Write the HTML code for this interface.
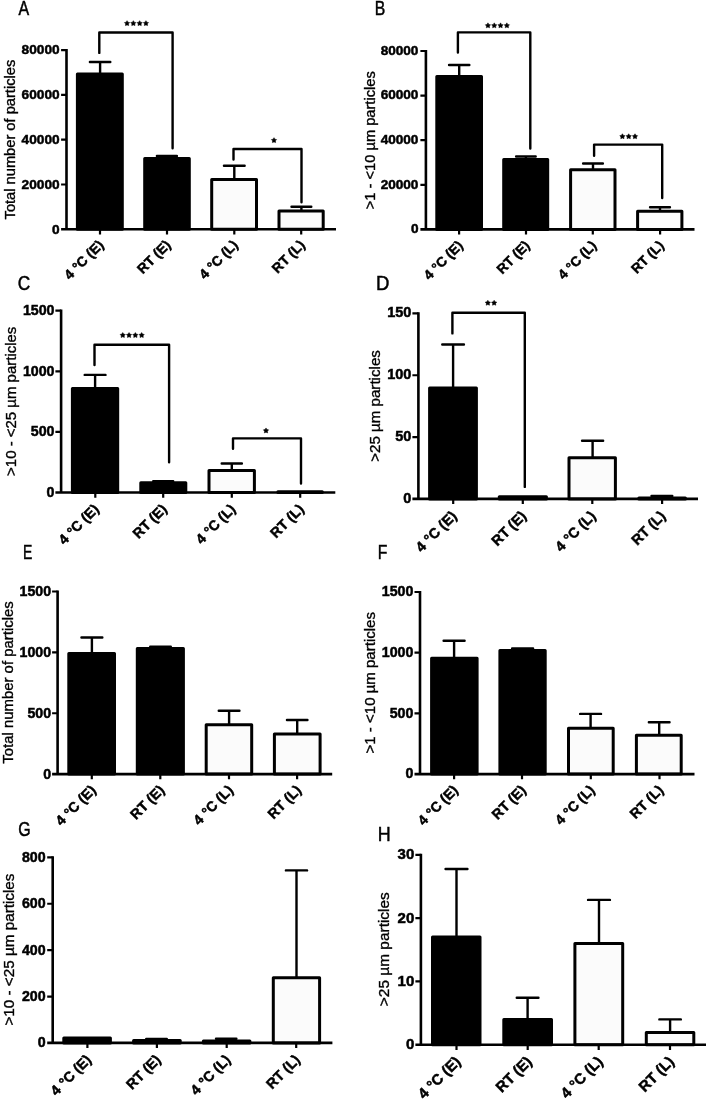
<!DOCTYPE html>
<html><head><meta charset="utf-8"><style>
html,body{margin:0;padding:0;background:#fff;overflow:hidden;}
svg{display:block;will-change:transform;}
text{font-family:"Liberation Sans", sans-serif;fill:#000;}
.lt{font-size:20px;stroke:#000;stroke-width:0.5px;}
.tk{font-weight:bold;text-anchor:end;stroke:#000;stroke-width:0.5px;}
.tt{text-anchor:middle;stroke:#000;stroke-width:0.35px;}
.xl{font-weight:bold;text-anchor:end;stroke:#000;stroke-width:0.5px;}
.ln{fill:none;stroke:#000;stroke-width:2.4;stroke-linecap:round;stroke-linejoin:round;}
.ax{fill:none;stroke:#000;stroke-width:2.6;stroke-linecap:butt;}
.tkl{fill:none;stroke:#000;stroke-width:2.2;stroke-linecap:butt;}
.st{fill:#000;stroke:#000;stroke-width:0.5;stroke-linejoin:round;}
.bar{stroke:#000;stroke-width:3.0;stroke-linejoin:round;}
</style></head><body>
<svg width="708" height="1099" viewBox="0 0 708 1099">
<rect width="708" height="1099" fill="#fff"/>
<g id="pA"><text transform="translate(18.52 15.48) scale(0.797 1)" class="lt">A</text><path d="M100.1 73.90 V62 M89.90 62 H110.30" class="ln"/><rect x="77.40" y="73.90" width="44.90" height="155.40" fill="#000" class="bar"/><path d="M166.9 158.60 V156 M156.90 156 H176.90" class="ln"/><rect x="144.70" y="158.60" width="44.60" height="70.70" fill="#000" class="bar"/><path d="M234.3 179.50 V165.7 M223.95 165.7 H244.65" class="ln"/><rect x="211.70" y="179.50" width="44.80" height="49.80" fill="#fbfbfb" class="bar"/><path d="M301.4 211.10 V206.7 M291.50 206.7 H311.30" class="ln"/><rect x="279.00" y="211.10" width="44.20" height="18.20" fill="#fbfbfb" class="bar"/><path d="M66.5 49.00 V229.3 M61.1 229.3 H336" class="ax"/><path d="M61.1 50.10 H66.5 M61.1 94.90 H66.5 M61.1 139.70 H66.5 M61.1 184.50 H66.5 M100 229.3 V234.50 M167 229.3 V234.50 M234.3 229.3 V234.50 M301.2 229.3 V234.50" class="tkl"/><text x="59.65" y="54.41" class="tk" style="font-size:13.7px">80000</text><text x="59.65" y="99.21" class="tk" style="font-size:13.7px">60000</text><text x="59.65" y="144.01" class="tk" style="font-size:13.7px">40000</text><text x="59.65" y="188.81" class="tk" style="font-size:13.7px">20000</text><text x="59.65" y="233.61" class="tk" style="font-size:13.7px">0</text><text transform="translate(15.10 139.60) rotate(-90)" class="tt" style="font-size:14.67px">Total number of particles</text><text transform="translate(104.50 245.80) rotate(-45)" class="xl" style="font-size:13.75px">4 °C (E)</text><text transform="translate(171.50 245.80) rotate(-45)" class="xl" style="font-size:13.75px">RT (E)</text><text transform="translate(238.80 245.80) rotate(-45)" class="xl" style="font-size:13.75px">4 °C (L)</text><text transform="translate(305.70 245.80) rotate(-45)" class="xl" style="font-size:13.75px">RT (L)</text><path d="M99.3 52.9 V32.5 H172.6 V148.2" class="ln"/><polygon points="127.05,20.65 127.94,22.18 129.67,22.55 128.49,23.87 128.67,25.62 127.05,24.91 125.43,25.62 125.61,23.87 124.43,22.55 126.16,22.18" class="st"/><polygon points="133.35,20.65 134.24,22.18 135.97,22.55 134.79,23.87 134.97,25.62 133.35,24.91 131.73,25.62 131.91,23.87 130.73,22.55 132.46,22.18" class="st"/><polygon points="139.65,20.65 140.54,22.18 142.27,22.55 141.09,23.87 141.27,25.62 139.65,24.91 138.03,25.62 138.21,23.87 137.03,22.55 138.76,22.18" class="st"/><polygon points="145.95,20.65 146.84,22.18 148.57,22.55 147.39,23.87 147.57,25.62 145.95,24.91 144.33,25.62 144.51,23.87 143.33,22.55 145.06,22.18" class="st"/><path d="M233.5 159.5 V149 H301.5 V202.2" class="ln"/><polygon points="274.00,137.65 274.89,139.18 276.62,139.55 275.44,140.87 275.62,142.62 274.00,141.91 272.38,142.62 272.56,140.87 271.38,139.55 273.11,139.18" class="st"/></g>
<g id="pB"><text transform="translate(374.70 15.16) scale(0.787 1)" class="lt">B</text><path d="M459.2 76.40 V65 M449.05 65 H469.35" class="ln"/><rect x="436.80" y="76.40" width="44.70" height="153.00" fill="#000" class="bar"/><path d="M525.9 159.50 V156.5 M516.10 156.5 H535.70" class="ln"/><rect x="503.70" y="159.50" width="44.00" height="69.90" fill="#000" class="bar"/><path d="M593 169.70 V163.5 M583.10 163.5 H602.90" class="ln"/><rect x="570.60" y="169.70" width="44.40" height="59.70" fill="#fbfbfb" class="bar"/><path d="M660 211.20 V207.3 M650.05 207.3 H669.95" class="ln"/><rect x="637.60" y="211.20" width="44.30" height="18.20" fill="#fbfbfb" class="bar"/><path d="M425.9 49.90 V229.4 M420.4 229.4 H694.5" class="ax"/><path d="M420.4 51.00 H425.9 M420.4 95.60 H425.9 M420.4 140.20 H425.9 M420.4 184.80 H425.9 M459.1 229.4 V234.60 M526 229.4 V234.60 M592.8 229.4 V234.60 M660.1 229.4 V234.60" class="tkl"/><text x="418.45" y="54.88" class="tk" style="font-size:13.6px">80000</text><text x="418.45" y="99.48" class="tk" style="font-size:13.6px">60000</text><text x="418.45" y="144.08" class="tk" style="font-size:13.6px">40000</text><text x="418.45" y="188.68" class="tk" style="font-size:13.6px">20000</text><text x="418.45" y="233.28" class="tk" style="font-size:13.6px">0</text><text transform="translate(374.50 140.25) rotate(-90)" class="tt" style="font-size:14.67px">&gt;1 - &lt;10 µm particles</text><text transform="translate(463.60 246.40) rotate(-45)" class="xl" style="font-size:13.6px">4 °C (E)</text><text transform="translate(530.50 246.40) rotate(-45)" class="xl" style="font-size:13.6px">RT (E)</text><text transform="translate(597.30 246.40) rotate(-45)" class="xl" style="font-size:13.6px">4 °C (L)</text><text transform="translate(664.60 246.40) rotate(-45)" class="xl" style="font-size:13.6px">RT (L)</text><path d="M457.9 52.5 V32.4 H530.3 V148.5" class="ln"/><polygon points="487.95,22.85 488.84,24.38 490.57,24.75 489.39,26.07 489.57,27.82 487.95,27.11 486.33,27.82 486.51,26.07 485.33,24.75 487.06,24.38" class="st"/><polygon points="494.25,22.85 495.14,24.38 496.87,24.75 495.69,26.07 495.87,27.82 494.25,27.11 492.63,27.82 492.81,26.07 491.63,24.75 493.36,24.38" class="st"/><polygon points="500.55,22.85 501.44,24.38 503.17,24.75 501.99,26.07 502.17,27.82 500.55,27.11 498.93,27.82 499.11,26.07 497.93,24.75 499.66,24.38" class="st"/><polygon points="506.85,22.85 507.74,24.38 509.47,24.75 508.29,26.07 508.47,27.82 506.85,27.11 505.23,27.82 505.41,26.07 504.23,24.75 505.96,24.38" class="st"/><path d="M594.1 155.7 V144.6 H662.2 V198" class="ln"/><polygon points="622.40,133.75 623.29,135.28 625.02,135.65 623.84,136.97 624.02,138.72 622.40,138.01 620.78,138.72 620.96,136.97 619.78,135.65 621.51,135.28" class="st"/><polygon points="628.70,133.75 629.59,135.28 631.32,135.65 630.14,136.97 630.32,138.72 628.70,138.01 627.08,138.72 627.26,136.97 626.08,135.65 627.81,135.28" class="st"/><polygon points="635.00,133.75 635.89,135.28 637.62,135.65 636.44,136.97 636.62,138.72 635.00,138.01 633.38,138.72 633.56,136.97 632.38,135.65 634.11,135.28" class="st"/></g>
<g id="pC"><text transform="translate(17.82 290.40) scale(0.865 1)" class="lt">C</text><path d="M95.1 388.40 V374.9 M84.70 374.9 H105.50" class="ln"/><rect x="72.40" y="388.40" width="45.30" height="104.10" fill="#000" class="bar"/><path d="M163.2 482.80 V481.2 M153.20 481.2 H173.20" class="ln"/><rect x="140.80" y="482.80" width="45.00" height="9.70" fill="#000" class="bar"/><path d="M231.8 470.60 V463.5 M221.70 463.5 H241.90" class="ln"/><rect x="209.00" y="470.60" width="45.40" height="21.90" fill="#fbfbfb" class="bar"/><rect x="277.90" y="491.80" width="44.40" height="0.70" fill="#000" class="bar"/><path d="M61.1 309.60 V492.5 M55.4 492.5 H335.3" class="ax"/><path d="M55.4 310.70 H61.1 M55.4 371.30 H61.1 M55.4 431.90 H61.1 M95.3 492.5 V497.70 M163.2 492.5 V497.70 M231.8 492.5 V497.70 M300.2 492.5 V497.70" class="tkl"/><text x="54.45" y="314.98" class="tk" style="font-size:14.2px">1500</text><text x="54.45" y="375.58" class="tk" style="font-size:14.2px">1000</text><text x="54.45" y="436.18" class="tk" style="font-size:14.2px">500</text><text x="54.45" y="496.78" class="tk" style="font-size:14.2px">0</text><text transform="translate(15.90 401.30) rotate(-90)" class="tt" style="font-size:14.98px">&gt;10 - &lt;25 µm particles</text><text transform="translate(99.80 510.00) rotate(-45)" class="xl" style="font-size:14.05px">4 °C (E)</text><text transform="translate(167.70 510.00) rotate(-45)" class="xl" style="font-size:14.05px">RT (E)</text><text transform="translate(236.30 510.00) rotate(-45)" class="xl" style="font-size:14.05px">4 °C (L)</text><text transform="translate(304.70 510.00) rotate(-45)" class="xl" style="font-size:14.05px">RT (L)</text><path d="M94.5 365 V344.7 H169.1 V462.3" class="ln"/><polygon points="122.75,332.55 123.64,334.08 125.37,334.45 124.19,335.77 124.37,337.52 122.75,336.81 121.13,337.52 121.31,335.77 120.13,334.45 121.86,334.08" class="st"/><polygon points="129.05,332.55 129.94,334.08 131.67,334.45 130.49,335.77 130.67,337.52 129.05,336.81 127.43,337.52 127.61,335.77 126.43,334.45 128.16,334.08" class="st"/><polygon points="135.35,332.55 136.24,334.08 137.97,334.45 136.79,335.77 136.97,337.52 135.35,336.81 133.73,337.52 133.91,335.77 132.73,334.45 134.46,334.08" class="st"/><polygon points="141.65,332.55 142.54,334.08 144.27,334.45 143.09,335.77 143.27,337.52 141.65,336.81 140.03,337.52 140.21,335.77 139.03,334.45 140.76,334.08" class="st"/><path d="M233 448.8 V438.4 H301 V483.6" class="ln"/><polygon points="266.00,427.95 266.89,429.48 268.62,429.85 267.44,431.17 267.62,432.92 266.00,432.21 264.38,432.92 264.56,431.17 263.38,429.85 265.11,429.48" class="st"/></g>
<g id="pD"><text transform="translate(376.08 290.24) scale(0.927 1)" class="lt">D</text><path d="M453.1 388.00 V344.5 M442.25 344.5 H463.95" class="ln"/><rect x="429.60" y="388.00" width="46.80" height="110.90" fill="#000" class="bar"/><rect x="499.30" y="496.70" width="47.10" height="2.20" fill="#000" class="bar"/><path d="M592.6 457.70 V440.8 M582.05 440.8 H603.15" class="ln"/><rect x="569.00" y="457.70" width="46.40" height="41.20" fill="#fbfbfb" class="bar"/><path d="M661.9 498.00 V496 M651.50 496 H672.30" class="ln"/><rect x="638.90" y="498.00" width="46.50" height="0.90" fill="#000" class="bar"/><path d="M418.4 312.30 V498.9 M412.4 498.9 H698" class="ax"/><path d="M412.4 313.40 H418.4 M412.4 375.23 H418.4 M412.4 437.07 H418.4 M453.2 498.9 V504.10 M522.8 498.9 V504.10 M592.3 498.9 V504.10 M662.1 498.9 V504.10" class="tkl"/><text x="411.45" y="317.49" class="tk" style="font-size:14.5px">150</text><text x="411.45" y="379.32" class="tk" style="font-size:14.5px">100</text><text x="411.45" y="441.15" class="tk" style="font-size:14.5px">50</text><text x="411.45" y="502.99" class="tk" style="font-size:14.5px">0</text><text transform="translate(379.50 406.00) rotate(-90)" class="tt" style="font-size:15.13px">&gt;25 µm particles</text><text transform="translate(457.50 516.90) rotate(-45)" class="xl" style="font-size:14.3px">4 °C (E)</text><text transform="translate(527.10 516.90) rotate(-45)" class="xl" style="font-size:14.3px">RT (E)</text><text transform="translate(596.60 516.90) rotate(-45)" class="xl" style="font-size:14.3px">4 °C (L)</text><text transform="translate(666.40 516.90) rotate(-45)" class="xl" style="font-size:14.3px">RT (L)</text><path d="M452.4 333.4 V312.8 H524.8 V486.9" class="ln"/><polygon points="487.85,300.25 488.74,301.78 490.47,302.15 489.29,303.47 489.47,305.22 487.85,304.51 486.23,305.22 486.41,303.47 485.23,302.15 486.96,301.78" class="st"/><polygon points="494.15,300.25 495.04,301.78 496.77,302.15 495.59,303.47 495.77,305.22 494.15,304.51 492.53,305.22 492.71,303.47 491.53,302.15 493.26,301.78" class="st"/></g>
<g id="pE"><text transform="translate(23.08 559.10) scale(0.700 1)" class="lt">E</text><path d="M91.9 653.50 V637.5 M81.45 637.5 H102.35" class="ln"/><rect x="68.80" y="653.50" width="45.70" height="120.60" fill="#000" class="bar"/><path d="M160.5 648.60 V646.7 M150.20 646.7 H170.80" class="ln"/><rect x="137.30" y="648.60" width="46.10" height="125.50" fill="#000" class="bar"/><path d="M229.1 724.80 V710.7 M218.75 710.7 H239.45" class="ln"/><rect x="206.20" y="724.80" width="45.50" height="49.30" fill="#fbfbfb" class="bar"/><path d="M297.2 734.00 V720 M286.95 720 H307.45" class="ln"/><rect x="274.40" y="734.00" width="45.70" height="40.10" fill="#fbfbfb" class="bar"/><path d="M57.6 590.40 V774.1 M52.1 774.1 H332.2" class="ax"/><path d="M52.1 591.50 H57.6 M52.1 652.37 H57.6 M52.1 713.23 H57.6 M91.8 774.1 V779.30 M160.3 774.1 V779.30 M229 774.1 V779.30 M297.1 774.1 V779.30" class="tkl"/><text x="51.15" y="596.28" class="tk" style="font-size:14.2px">1500</text><text x="51.15" y="657.15" class="tk" style="font-size:14.2px">1000</text><text x="51.15" y="718.02" class="tk" style="font-size:14.2px">500</text><text x="51.15" y="778.88" class="tk" style="font-size:14.2px">0</text><text transform="translate(12.60 682.50) rotate(-90)" class="tt" style="font-size:14.91px">Total number of particles</text><text transform="translate(96.80 791.00) rotate(-45)" class="xl" style="font-size:14.05px">4 °C (E)</text><text transform="translate(165.30 791.00) rotate(-45)" class="xl" style="font-size:14.05px">RT (E)</text><text transform="translate(234.00 791.00) rotate(-45)" class="xl" style="font-size:14.05px">4 °C (L)</text><text transform="translate(302.10 791.00) rotate(-45)" class="xl" style="font-size:14.05px">RT (L)</text></g>
<g id="pF"><text transform="translate(377.72 559.10) scale(0.784 1)" class="lt">F</text><path d="M454.1 658.20 V640.8 M443.60 640.8 H464.60" class="ln"/><rect x="431.60" y="658.20" width="45.50" height="115.90" fill="#000" class="bar"/><path d="M522.6 650.60 V648.4 M512.10 648.4 H533.10" class="ln"/><rect x="499.90" y="650.60" width="45.30" height="123.50" fill="#000" class="bar"/><path d="M590.6 728.20 V713.9 M580.15 713.9 H601.05" class="ln"/><rect x="568.50" y="728.20" width="44.70" height="45.90" fill="#fbfbfb" class="bar"/><path d="M659.2 735.30 V722.2 M648.85 722.2 H669.55" class="ln"/><rect x="636.40" y="735.30" width="44.80" height="38.80" fill="#fbfbfb" class="bar"/><path d="M420 590.90 V774.1 M414.5 774.1 H694.5" class="ax"/><path d="M414.5 592.00 H420 M414.5 652.70 H420 M414.5 713.40 H420 M454.1 774.1 V779.30 M522 774.1 V779.30 M590.8 774.1 V779.30 M659.5 774.1 V779.30" class="tkl"/><text x="413.35" y="596.28" class="tk" style="font-size:14.2px">1500</text><text x="413.35" y="656.98" class="tk" style="font-size:14.2px">1000</text><text x="413.35" y="717.68" class="tk" style="font-size:14.2px">500</text><text x="413.35" y="778.38" class="tk" style="font-size:14.2px">0</text><text transform="translate(374.70 682.75) rotate(-90)" class="tt" style="font-size:15.03px">&gt;1 - &lt;10 µm particles</text><text transform="translate(458.80 791.00) rotate(-45)" class="xl" style="font-size:14.0px">4 °C (E)</text><text transform="translate(526.70 791.00) rotate(-45)" class="xl" style="font-size:14.0px">RT (E)</text><text transform="translate(595.50 791.00) rotate(-45)" class="xl" style="font-size:14.0px">4 °C (L)</text><text transform="translate(664.20 791.00) rotate(-45)" class="xl" style="font-size:14.0px">RT (L)</text></g>
<g id="pG"><text transform="translate(18.20 836.14) scale(0.797 1)" class="lt">G</text><rect x="63.80" y="1037.90" width="46.60" height="5.00" fill="#000" class="bar"/><path d="M156.5 1040.60 V1039 M146.20 1039 H166.80" class="ln"/><rect x="133.60" y="1040.60" width="46.60" height="2.30" fill="#000" class="bar"/><path d="M226.2 1040.90 V1038.8 M216.00 1038.8 H236.40" class="ln"/><rect x="203.40" y="1040.90" width="46.50" height="2.00" fill="#000" class="bar"/><path d="M296.5 977.70 V870.4 M285.90 870.4 H307.10" class="ln"/><rect x="273.30" y="977.70" width="46.30" height="65.20" fill="#fbfbfb" class="bar"/><path d="M52.7 856.30 V1042.9 M47.2 1042.9 H332.4" class="ax"/><path d="M47.2 857.40 H52.7 M47.2 903.77 H52.7 M47.2 950.15 H52.7 M47.2 996.53 H52.7 M87.4 1042.9 V1048.10 M156.9 1042.9 V1048.10 M226.7 1042.9 V1048.10 M296.2 1042.9 V1048.10" class="tkl"/><text x="45.55" y="861.88" class="tk" style="font-size:14.2px">800</text><text x="45.55" y="908.26" class="tk" style="font-size:14.2px">600</text><text x="45.55" y="954.63" class="tk" style="font-size:14.2px">400</text><text x="45.55" y="1001.01" class="tk" style="font-size:14.2px">200</text><text x="45.55" y="1047.38" class="tk" style="font-size:14.2px">0</text><text transform="translate(13.90 949.55) rotate(-90)" class="tt" style="font-size:15.26px">&gt;10 - &lt;25 µm particles</text><text transform="translate(92.10 1060.70) rotate(-45)" class="xl" style="font-size:14.2px">4 °C (E)</text><text transform="translate(161.60 1060.70) rotate(-45)" class="xl" style="font-size:14.2px">RT (E)</text><text transform="translate(231.40 1060.70) rotate(-45)" class="xl" style="font-size:14.2px">4 °C (L)</text><text transform="translate(300.90 1060.70) rotate(-45)" class="xl" style="font-size:14.2px">RT (L)</text></g>
<g id="pH"><text transform="translate(377.72 841.16) scale(0.895 1)" class="lt">H</text><path d="M456.5 937.00 V869 M445.55 869 H467.45" class="ln"/><rect x="432.50" y="937.00" width="47.50" height="107.70" fill="#000" class="bar"/><path d="M527.6 1019.50 V997.8 M516.75 997.8 H538.45" class="ln"/><rect x="503.80" y="1019.50" width="47.70" height="25.20" fill="#000" class="bar"/><path d="M599 943.60 V899.9 M588.05 899.9 H609.95" class="ln"/><rect x="574.90" y="943.60" width="47.80" height="101.10" fill="#fbfbfb" class="bar"/><path d="M670.1 1032.40 V1019.4 M659.35 1019.4 H680.85" class="ln"/><rect x="646.30" y="1032.40" width="47.50" height="12.30" fill="#fbfbfb" class="bar"/><path d="M420.9 853.80 V1044.7 M415.4 1044.7 H706" class="ax"/><path d="M415.4 854.90 H420.9 M415.4 918.17 H420.9 M415.4 981.43 H420.9 M456.5 1044.7 V1049.90 M527.7 1044.7 V1049.90 M598.7 1044.7 V1049.90 M670 1044.7 V1049.90" class="tkl"/><text x="414.25" y="859.26" class="tk" style="font-size:15px">30</text><text x="414.25" y="922.53" class="tk" style="font-size:15px">20</text><text x="414.25" y="985.79" class="tk" style="font-size:15px">10</text><text x="414.25" y="1049.06" class="tk" style="font-size:15px">0</text><text transform="translate(389.20 949.20) rotate(-90)" class="tt" style="font-size:15.44px">&gt;25 µm particles</text><text transform="translate(461.50 1062.40) rotate(-45)" class="xl" style="font-size:14.85px">4 °C (E)</text><text transform="translate(532.70 1062.40) rotate(-45)" class="xl" style="font-size:14.85px">RT (E)</text><text transform="translate(603.70 1062.40) rotate(-45)" class="xl" style="font-size:14.85px">4 °C (L)</text><text transform="translate(675.00 1062.40) rotate(-45)" class="xl" style="font-size:14.85px">RT (L)</text></g>
</svg>
</body></html>
